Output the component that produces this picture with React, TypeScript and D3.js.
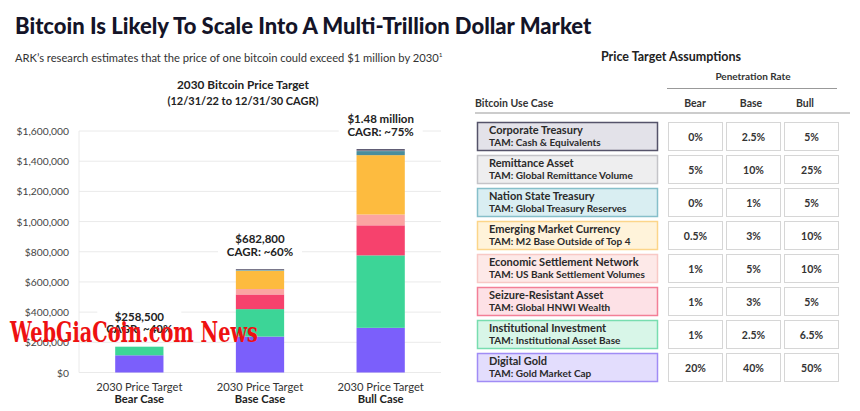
import React from "react";
import * as d3 from "d3";

const categories = ["Bear Case", "Base Case", "Bull Case"];
const totalLabels = ["$258,500", "$682,800", "$1.48 million"];
const cagrLabels = ["CAGR: ~40%", "CAGR: ~60%", "CAGR: ~75%"];
const yTicks = [0, 200000, 400000, 600000, 800000, 1000000, 1200000, 1400000, 1600000];

// stacked segments, bottom to top
const seriesKeys = ["Digital Gold", "Institutional Investment", "Seizure-Resistant Asset", "Economic Settlement Network", "Emerging Market Currency", "Nation State Treasury", "Remittance Asset", "Corporate Treasury"];
const digitalGold = [114000, 238000, 296000];
const institutional = [57000, 182000, 480000];
const seizure = [0, 97000, 199000];
const economic = [0, 36000, 72000];
const emerging = [0, 121000, 393000];
const nationState = [0, 4000, 27000];
const remittance = [0, 1000, 3000];
const corporate = [0, 5000, 10000];
const seriesColors = ["#7b5ffb", "#3cd597", "#f6426d", "#fba4a2", "#fdbb3f", "#4a8d9c", "#c9c9c9", "#4d4a64"];

// table
const useCases = ["Corporate Treasury", "Remittance Asset", "Nation State Treasury", "Emerging Market Currency", "Economic Settlement Network", "Seizure-Resistant Asset", "Institutional Investment", "Digital Gold"];
const tams = ["TAM: Cash & Equivalents", "TAM: Global Remittance Volume", "TAM: Global Treasury Reserves", "TAM: M2 Base Outside of Top 4", "TAM: US Bank Settlement Volumes", "TAM: Global HNWI Wealth", "TAM: Institutional Asset Base", "TAM: Gold Market Cap"];
const bearRates = ["0%", "5%", "0%", "0.5%", "1%", "1%", "1%", "20%"];
const baseRates = ["2.5%", "10%", "1%", "3%", "5%", "3%", "2.5%", "40%"];
const bullRates = ["5%", "25%", "5%", "10%", "10%", "5%", "6.5%", "50%"];
const rowFills = ["#e3e2e9", "#eeeeef", "#d9eef2", "#fff3da", "#fde9e8", "#fde1e6", "#d8f6e8", "#e3ddfd"];
const rowBorders = ["#55536a", "#c4c4c8", "#86bfca", "#fcd58a", "#f8c9c6", "#f37f97", "#78ddb0", "#a08cf5"];
const caseHeaders = ["Bear", "Base", "Bull"];

const FONT = "Lato, 'Open Sans', sans-serif";

export default function App() {
  const y = d3.scaleLinear().domain([0, 1600000]).range([372.5, 131]);
  const x = d3.scaleBand().domain(categories).range([79, 441]).paddingInner(0.6).paddingOuter(0.3);
  const rows = categories.map((c, i) => ({
    cat: c,
    "Digital Gold": digitalGold[i],
    "Institutional Investment": institutional[i],
    "Seizure-Resistant Asset": seizure[i],
    "Economic Settlement Network": economic[i],
    "Emerging Market Currency": emerging[i],
    "Nation State Treasury": nationState[i],
    "Remittance Asset": remittance[i],
    "Corporate Treasury": corporate[i],
  }));
  const stacked = d3.stack<any>().keys(seriesKeys)(rows);
  const fmt = (v: number) => "$" + d3.format(",")(v);
  const totals = rows.map((r) => d3.sum(seriesKeys, (k) => (r as any)[k]));

  const rowY = d3.scaleLinear().domain([0, 1]).range([122.5, 155.5]);
  const cellX = [668, 726, 784];
  const cellW = 54;
  const headerX = [695, 751, 805];

  return (
    <svg width={860} height={411} style={{ position: "absolute", left: 0, top: 0, background: "#fff" }} fontFamily={FONT}>
      <rect width={860} height={411} fill="#fff" />
      <text x={15} y={34} fontSize={22} fontWeight={900} fill="#141428">Bitcoin Is Likely To Scale Into A Multi-Trillion Dollar Market</text>
      <text x={15} y={62} fontSize={11.2} fill="#333">
        ARK’s research estimates that the price of one bitcoin could exceed $1 million by 2030
        <tspan fontSize={6.5} dy={-5}>1</tspan>
      </text>

      {/* chart title */}
      <text x={243} y={88.5} textAnchor="middle" fontSize={11.8} fontWeight={700} fill="#222">2030 Bitcoin Price Target</text>
      <text x={243} y={105} textAnchor="middle" fontSize={11} fontWeight={700} fill="#222">(12/31/22 to 12/31/30 CAGR)</text>

      {/* grid */}
      {yTicks.map((t) => (
        <g key={t}>
          <line x1={79} x2={441} y1={y(t)} y2={y(t)} stroke="#eaeaea" strokeWidth={1} />
          <text x={69} y={y(t) + 4} textAnchor="end" fontSize={10.3} fill="#444">{fmt(t)}</text>
        </g>
      ))}
      <line x1={79} x2={79} y1={y(1600000)} y2={y(0)} stroke="#eaeaea" />

      {/* bars */}
      {stacked.map((s, si) => (
        <g key={s.key} fill={seriesColors[si]}>
          {s.map((d, i) => (
            <rect key={i} x={x(categories[i])} width={x.bandwidth()} y={y(d[1])} height={Math.max(0, y(d[0]) - y(d[1]))} />
          ))}
        </g>
      ))}

      {/* value labels */}
      {categories.map((c, i) => {
        const cx = (x(c) as number) + x.bandwidth() / 2;
        const top = y(totals[i]);
        return (
          <g key={c}>
            <rect x={cx - 42} y={top - 40} width={84} height={30} fill="#fff" />
            <text x={cx} y={top - 26} textAnchor="middle" fontSize={11.5} fontWeight={700} fill="#222">{totalLabels[i]}</text>
            <text x={cx} y={top - 13.5} textAnchor="middle" fontSize={11.5} fontWeight={700} fill="#222">{cagrLabels[i]}</text>
            <text x={cx} y={391} textAnchor="middle" fontSize={11.2} fill="#333">2030 Price Target</text>
            <text x={cx} y={403} textAnchor="middle" fontSize={11.2} fontWeight={700} fill="#222">{c}</text>
          </g>
        );
      })}

      {/* table */}
      <text x={671} y={61} textAnchor="middle" fontSize={12.5} fontWeight={700} fill="#222">Price Target Assumptions</text>
      <text x={753} y={80} textAnchor="middle" fontSize={10} fontWeight={700} fill="#333">Penetration Rate</text>
      <line x1={667} x2={837} y1={88.5} y2={88.5} stroke="#999" />
      <text x={475} y={107} fontSize={10.5} fontWeight={700} fill="#333">Bitcoin Use Case</text>
      {caseHeaders.map((h, i) => (
        <text key={h} x={headerX[i]} y={107} textAnchor="middle" fontSize={10.5} fontWeight={700} fill="#333">{h}</text>
      ))}
      <line x1={475} x2={850} y1={113} y2={113} stroke="#999" />

      {useCases.map((u, i) => {
        const top = rowY(i);
        const vals = [bearRates[i], baseRates[i], bullRates[i]];
        return (
          <g key={u}>
            <rect x={477.5} y={top} width={180} height={28} fill={rowFills[i]} stroke={rowBorders[i]} strokeWidth={1.5} />
            <text x={489} y={top + 11} fontSize={11} fontWeight={700} fill="#2a2a2a">{u}</text>
            <text x={489} y={top + 23.5} fontSize={10} fontWeight={700} fill="#2a2a2a">{tams[i]}</text>
            {vals.map((v, j) => (
              <g key={j}>
                <rect x={cellX[j] + 0.5} y={top} width={cellW} height={28} fill="#fff" stroke="#d6d6d6" strokeWidth={1} />
                <text x={cellX[j] + 0.5 + cellW / 2} y={top + 18} textAnchor="middle" fontSize={10.5} fontWeight={700} fill="#333">{v}</text>
              </g>
            ))}
          </g>
        );
      })}

      {/* watermark */}
      <text x={10} y={342} fontSize={28} fontWeight={700} fontFamily="'DejaVu Serif', 'Liberation Serif', serif" fill="#ee1111" textLength={248} lengthAdjust="spacingAndGlyphs">WebGiaCoin.com News</text>
    </svg>
  );
}
